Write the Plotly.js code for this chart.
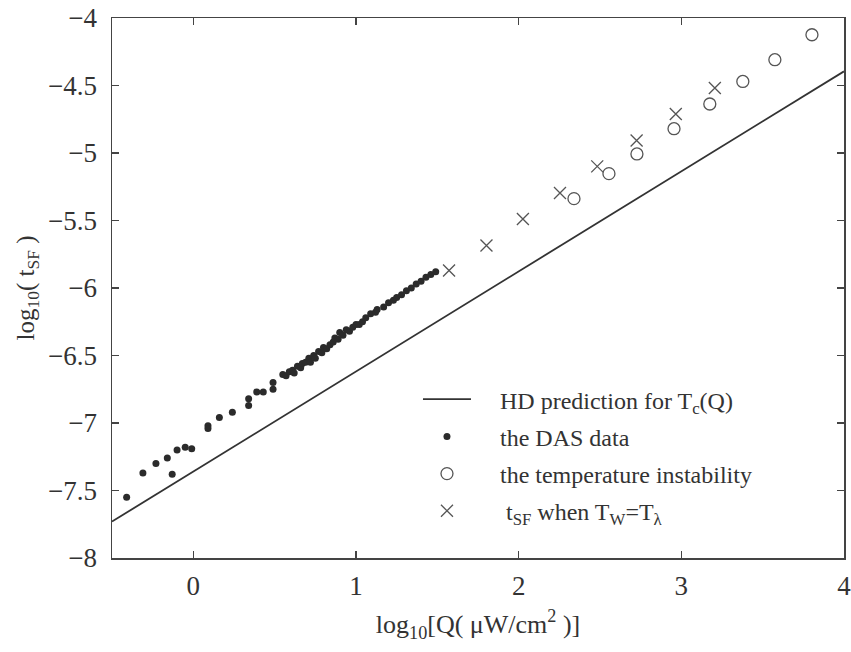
<!DOCTYPE html>
<html>
<head>
<meta charset="utf-8">
<script src="https://cdn.plot.ly/plotly-3.0.1.min.js"></script>
<style>
  html, body { margin: 0; padding: 0; background: #fff; }
  #plot { width: 851px; height: 652px; }
</style>
</head>
<body>
<div id="plot"></div>
<script>
// Hydrodynamic (HD) prediction for T_c(Q): straight line in log-log space
const hdX = [-0.5, 4.0];
const hdY = [-7.73, -4.395];

// DAS measurements: log10(Q) and log10(t_SF)
const dasX = [-0.41, -0.31, -0.23, -0.16, -0.13, -0.10, -0.05, -0.01,
  0.09, 0.09, 0.16, 0.24, 0.34, 0.34, 0.39, 0.43, 0.49, 0.49,
  0.55, 0.57, 0.59, 0.61, 0.62, 0.64, 0.66, 0.67, 0.69, 0.71, 0.72,
  0.74, 0.75, 0.77, 0.79, 0.80, 0.82, 0.84, 0.86, 0.87, 0.89, 0.90,
  0.92, 0.94, 0.96, 0.98, 1.00, 1.02, 1.04, 1.06, 1.09, 1.12, 1.13,
  1.17, 1.20, 1.23, 1.25, 1.28, 1.31, 1.34, 1.37, 1.40, 1.43, 1.46, 1.49];
const dasY = [-7.55, -7.37, -7.30, -7.26, -7.38, -7.20, -7.18, -7.19,
  -7.02, -7.04, -6.96, -6.92, -6.82, -6.87, -6.77, -6.77, -6.70, -6.75,
  -6.64, -6.65, -6.62, -6.61, -6.63, -6.58, -6.59, -6.56, -6.55, -6.52, -6.55,
  -6.50, -6.52, -6.47, -6.48, -6.44, -6.45, -6.42, -6.40, -6.37, -6.38, -6.33,
  -6.35, -6.31, -6.32, -6.29, -6.27, -6.27, -6.25, -6.22, -6.19, -6.18, -6.16,
  -6.14, -6.11, -6.09, -6.07, -6.05, -6.02, -6.00, -5.97, -5.95, -5.92, -5.90, -5.88];

// Onset of the temperature instability
const instX = [2.34, 2.555, 2.727, 2.955, 3.175, 3.378, 3.575, 3.803];
const instY = [-5.338, -5.153, -5.007, -4.820, -4.637, -4.470, -4.309, -4.124];

// t_SF at which the wall temperature reaches T_lambda
const lamX = [1.572, 1.802, 2.026, 2.254, 2.483, 2.725, 2.966, 3.206];
const lamY = [-5.870, -5.685, -5.489, -5.296, -5.099, -4.907, -4.711, -4.519];

// Axis ticks
const xTicks = [0, 1, 2, 3, 4];
const yTicks = [-8, -7.5, -7, -6.5, -6, -5.5, -5, -4.5, -4];

const serif = '"Liberation Serif", "Times New Roman", serif';
const ink = '#333333';
const grey = '#555555';
const pad = '\u00a0\u00a0\u00a0\u00a0';   // gap between legend symbol and its text

const traces = [
  {
    x: hdX, y: hdY, mode: 'lines', type: 'scatter',
    name: pad + 'HD prediction for T<sub>c</sub>(Q)', legendgroup: 'a',
    line: { color: ink, width: 1.8 }
  },
  {
    x: dasX, y: dasY, mode: 'markers', type: 'scatter',
    name: pad + 'the DAS data', legendgroup: 'b',
    marker: { symbol: 'circle', size: 7, color: '#2b2b2b' }
  },
  {
    x: instX, y: instY, mode: 'markers', type: 'scatter',
    name: pad + 'the temperature instability', legendgroup: 'c',
    marker: { symbol: 'circle-open', size: 12, color: grey, line: { width: 1.3, color: grey } }
  },
  {
    x: lamX, y: lamY, mode: 'markers', type: 'scatter',
    name: pad + '\u00a0t<sub>SF</sub> when T<sub>W</sub>=T<sub>λ</sub>', legendgroup: 'd',
    marker: { symbol: 'x-thin-open', size: 12, color: grey, line: { width: 1.3, color: grey } }
  }
];

const axisCommon = {
  showline: true, linecolor: '#444', linewidth: 1.5, mirror: 'ticks',
  ticks: 'inside', ticklen: 7, tickwidth: 1.2, tickcolor: '#444',
  showgrid: false, zeroline: false, ticklabeloverflow: 'allow',
  tickfont: { family: serif, size: 27, color: ink }
};

const layout = {
  width: 851, height: 652,
  margin: { l: 112, r: 7, t: 18, b: 94 },
  paper_bgcolor: '#fff', plot_bgcolor: '#fff',
  showlegend: true,
  legend: {
    x: 0.418, y: 0.335, xanchor: 'left', yanchor: 'top',
    bgcolor: 'rgba(0,0,0,0)', borderwidth: 0,
    font: { family: serif, size: 24, color: ink },
    itemwidth: 48, tracegroupgap: 3
  },
  xaxis: Object.assign({}, axisCommon, {
    range: [-0.5, 4], tickvals: xTicks, ticklabelstandoff: 3,
    title: { text: 'log<sub>10</sub>[Q( μW/cm<sup>2</sup> )]', font: { family: serif, size: 26, color: ink }, standoff: 15 }
  }),
  yaxis: Object.assign({}, axisCommon, {
    range: [-8, -4], tickvals: yTicks, ticklabelstandoff: 8,
    title: { text: 'log<sub>10</sub>( t<sub>SF</sub> )', font: { family: serif, size: 25, color: ink }, standoff: 6 }
  })
};

Plotly.newPlot('plot', traces, layout, { displayModeBar: false, staticPlot: true });
</script>
</body>
</html>
